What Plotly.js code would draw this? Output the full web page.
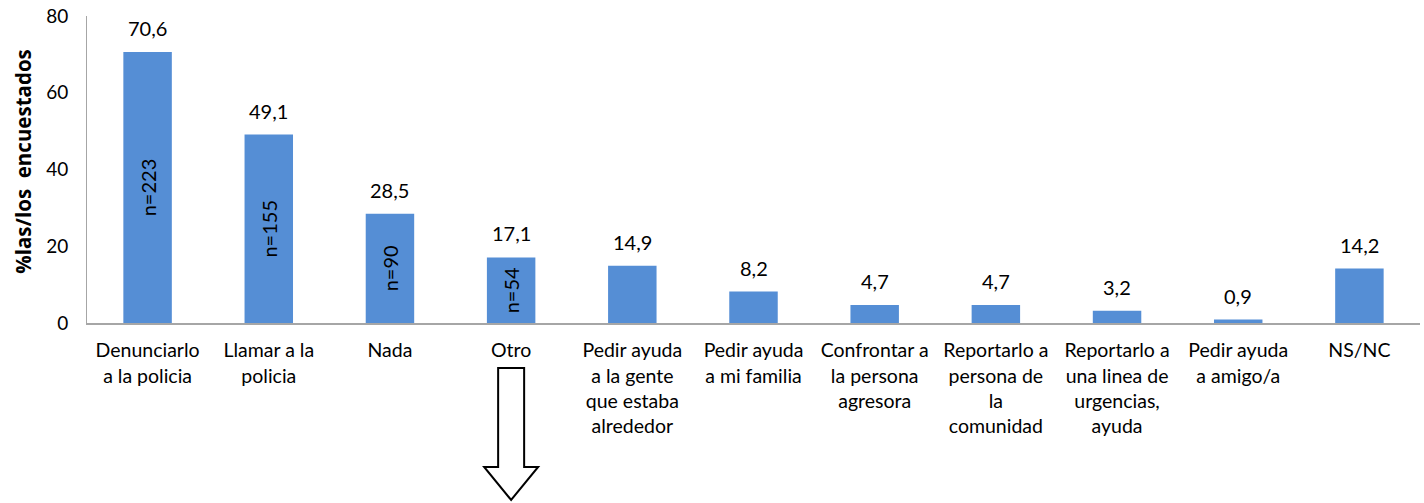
<!DOCTYPE html>
<html>
<head>
<meta charset="utf-8">
<script src="https://cdn.plot.ly/plotly-3.0.1.min.js"></script>
<style>
  html, body { margin: 0; padding: 0; background: #fff; }
  #chart { width: 1424px; height: 503px; }
</style>
</head>
<body>
<div id="chart"></div>
<script>
var categories = [
  'Denunciarlo<br>a la policia',
  'Llamar a la<br>policia',
  'Nada',
  'Otro',
  'Pedir ayuda<br>a la gente<br>que estaba<br>alrededor',
  'Pedir ayuda<br>a mi familia',
  'Confrontar a<br>la persona<br>agresora',
  'Reportarlo a<br>persona de<br>la<br>comunidad',
  'Reportarlo a<br>una linea de<br>urgencias,<br>ayuda',
  'Pedir ayuda<br>a amigo/a',
  'NS/NC'
];
var porcentajes = [70.6, 49.1, 28.5, 17.1, 14.9, 8.2, 4.7, 4.7, 3.2, 0.9, 14.2];
var nLabels = ['n=223', 'n=155', 'n=90', 'n=54', '', '', '', '', '', '', ''];

var CHART = document.getElementById('chart');
var FONT = 'Lato, "Open Sans", sans-serif';

var data = [{
  x: categories,
  y: porcentajes,
  type: 'bar',
  width: 0.4,
  marker: {color: '#558ed5'},
  text: nLabels,
  textposition: 'inside',
  insidetextanchor: 'middle',
  textangle: -90,
  insidetextfont: {family: FONT, size: 20, color: '#000'},
  hoverinfo: 'x+y'
}];

var annotations = [];
for (let i = 0; i < categories.length; i++) {
  annotations.push({
    x: categories[i],
    y: porcentajes[i],
    text: porcentajes[i].toFixed(1).replace('.', ','),
    showarrow: false,
    yanchor: 'bottom',
    yshift: 10,
    font: {family: FONT, size: 20, color: '#000'}
  });
}

var layout = {
  width: 1424,
  height: 503,
  margin: {l: 87, r: 4, t: 16, b: 180},
  paper_bgcolor: '#fff',
  plot_bgcolor: '#fff',
  font: {family: FONT, size: 19, color: '#000'},
  showlegend: false,
  bargap: 0.6,
  xaxis: {
    type: 'category',
    showline: true,
    linecolor: '#a6a6a6',
    linewidth: 2,
    ticks: '',
    tickangle: 0,
    ticklabelstandoff: 9,
    tickfont: {family: FONT, size: 19.5, color: '#000'},
    automargin: false
  },
  yaxis: {
    range: [0, 80],
    dtick: 20,
    showgrid: false,
    zeroline: false,
    showline: true,
    linecolor: '#a6a6a6',
    linewidth: 1,
    ticks: '',
    ticklabelstandoff: 14,
    tickfont: {family: FONT, size: 19, color: '#000'},
    title: {text: '&nbsp;&nbsp;&nbsp;<b>%las/los  encuestados</b>', font: {family: '"Open Sans", Lato, sans-serif', size: 20.5, color: '#000'}, standoff: 8},
    automargin: false
  },
  annotations: annotations,
  shapes: [{
    type: 'path',
    xref: 'x', xsizemode: 'pixel', xanchor: 3,
    yref: 'paper', ysizemode: 'pixel', yanchor: 0,
    path: 'M-13,-45 L13,-45 L13,-144 L27,-144 L0,-177 L-27,-144 L-13,-144 Z',
    line: {color: '#000', width: 2},
    fillcolor: '#fff'
  }]
};

Plotly.newPlot(CHART, data, layout, {displayModeBar: false});
</script>
</body>
</html>
